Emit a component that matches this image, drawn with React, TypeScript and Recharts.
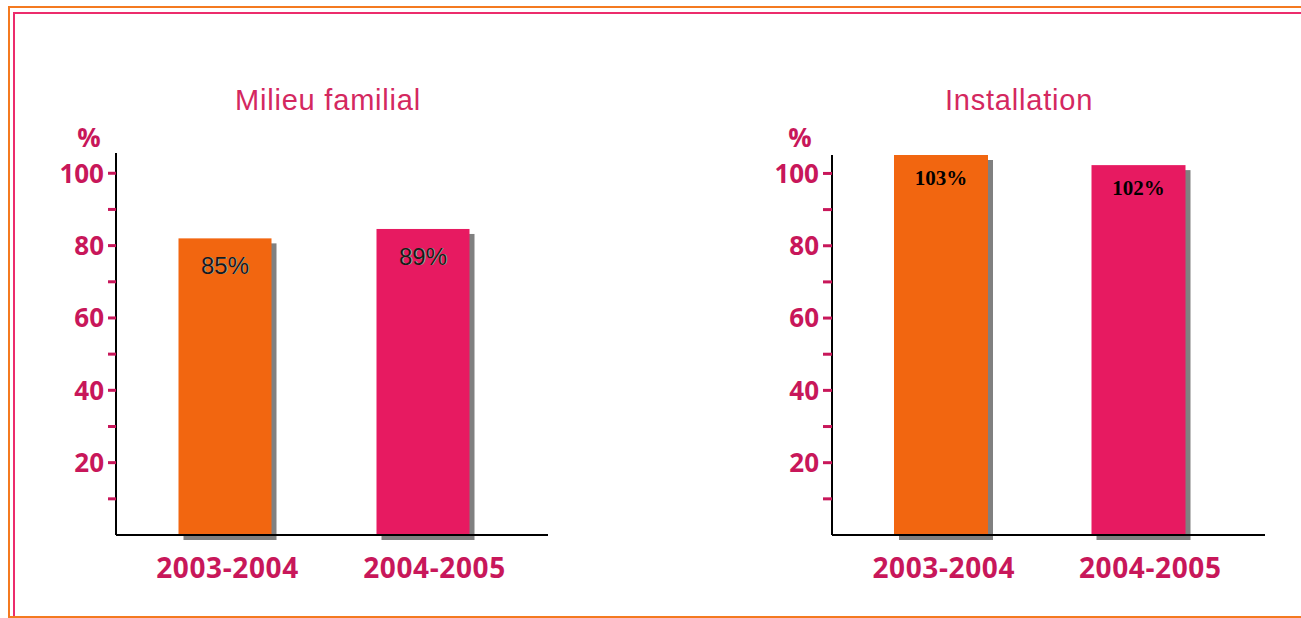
import React from "react"
import { BarChart, Bar, XAxis, YAxis, LabelList } from "recharts"

const periods = ["2003-2004", "2004-2005"]
const milieuValues = [82, 84.6]
const milieuLabels = ["85%", "89%"]
const installValues = [105.1, 102.3]
const installLabels = ["103%", "102%"]
const yTicks = [10, 20, 30, 40, 50, 60, 70, 80, 90, 100]
const barColors = ["#F26610", "#E71A61"]

const PINK = "#C8175A"
const TITLE = "#D4285F"

const milieuData = periods.map((p, i) => ({ period: p, value: milieuValues[i] }))
const installData = periods.map((p, i) => ({ period: p, value: installValues[i] }))

function ShadowBar(props: any) {
  const { x, y, width, height, index } = props
  if (height <= 0) return null
  return (
    <g>
      <rect x={x + 5} y={y + 5} width={width} height={height} fill="#808080" />
      <rect x={x} y={y} width={width} height={height} fill={barColors[index % barColors.length]} />
    </g>
  )
}

function YTick(props: any) {
  const { x, y, payload } = props
  if (payload.value % 20 !== 0) return null
  return (
    <text x={x} y={y} dy="0.36em" textAnchor="end" fill={PINK}
      style={{ fontFamily: "'Open Sans', sans-serif", fontWeight: 700, fontSize: 26 }}>
      {payload.value}
    </text>
  )
}

function XTick(props: any) {
  const { x, y, payload, index } = props
  // labels in the original sit a little right of the bar centres
  const shift = 3 + (index || 0) * 9
  return (
    <text x={x + shift} y={y} dy={43} textAnchor="middle" fill={PINK}
      style={{ fontFamily: "'Open Sans', sans-serif", fontWeight: 700, fontSize: 28, letterSpacing: 0.6 }}>
      {payload.value}
    </text>
  )
}

function makeLabel(labels: string[], serif: boolean) {
  return (props: any) => {
    const { x, y, width, index } = props
    const cx = x + width / 2
    if (serif) {
      return (
        <text x={cx} y={y + 23} dy="0.35em" textAnchor="middle" fill="#000"
          style={{ fontFamily: "'Liberation Serif', serif", fontWeight: 700, fontSize: 21 }}>
          {labels[index]}
        </text>
      )
    }
    return (
      <g style={{ fontFamily: "'Liberation Sans', Arial, sans-serif", fontSize: 24 }}>
        <text x={cx + 1.2} y={y + 27} dy="0.36em" textAnchor="middle" fill="#b8a898">
          {labels[index]}
        </text>
        <text x={cx} y={y + 27} dy="0.36em" textAnchor="middle" fill="#1a1a1a">
          {labels[index]}
        </text>
      </g>
    )
  }
}

function Panel(props: { data: any[]; labels: string[]; max: number; top: number; padL: number; padR: number; barSize: number; marginR: number; serif: boolean; tickSize: number }) {
  const { data, labels, max, top, padL, padR, barSize, marginR, serif, tickSize } = props
  return (
    <BarChart width={560} height={618} data={data} margin={{ top, right: marginR, left: 0, bottom: 0 }}>
      <XAxis dataKey="period" height={83} axisLine={{ stroke: "#000", strokeWidth: 2 }} tickLine={false}
        tickSize={0} tickMargin={0} padding={{ left: padL, right: padR }} tick={<XTick />} interval={0} />
      <YAxis width={116} domain={[0, max]} ticks={yTicks} interval={0}
        axisLine={{ stroke: "#000", strokeWidth: 2 }} tickLine={{ stroke: PINK, strokeWidth: 3 }}
        tickSize={tickSize} tickMargin={4} tick={<YTick />} />
      <Bar dataKey="value" barSize={barSize} shape={<ShadowBar />} isAnimationActive={false}>
        <LabelList dataKey="value" content={makeLabel(labels, serif)} />
      </Bar>
    </BarChart>
  )
}

const titleStyle: React.CSSProperties = {
  position: "absolute",
  width: 400,
  textAlign: "center",
  fontFamily: "'Liberation Sans', Arial, sans-serif",
  fontSize: 29,
  lineHeight: "29px",
  letterSpacing: 0.8,
  color: TITLE,
  top: 86,
}

const pctStyle: React.CSSProperties = {
  position: "absolute",
  width: 60,
  textAlign: "center",
  fontFamily: "'Open Sans', sans-serif",
  fontWeight: 700,
  fontSize: 26,
  lineHeight: "26px",
  color: PINK,
  top: 124,
}

export default function App() {
  return (
    <div style={{ position: "absolute", left: 0, top: 0, width: 1301, height: 618, overflow: "hidden", background: "#fff" }}>
      <div style={{ position: "absolute", left: 8, top: 6, right: 0, height: 2, background: "#F47A20" }} />
      <div style={{ position: "absolute", left: 8, top: 6, width: 2, bottom: 0, background: "#F47A20" }} />
      <div style={{ position: "absolute", left: 8, bottom: 0, right: 0, height: 2, background: "#F47A20" }} />
      <div style={{ position: "absolute", left: 13, top: 12, right: 0, height: 2, background: "#EC2C6C" }} />
      <div style={{ position: "absolute", left: 13, top: 12, width: 2, bottom: 2, background: "#EC2C6C" }} />

      <div style={{ ...titleStyle, left: 128 }}>Milieu familial</div>
      <div style={{ ...titleStyle, left: 819 }}>Installation</div>
      <div style={{ ...pctStyle, left: 59 }}>%</div>
      <div style={{ ...pctStyle, left: 770 }}>%</div>

      <div style={{ position: "absolute", left: 0, top: 0 }}>
        <Panel data={milieuData} labels={milieuLabels} max={105.6} top={153} padL={9.5} padR={26.5}
          barSize={93} marginR={12} serif={false} tickSize={8} />
      </div>
      <div style={{ position: "absolute", left: 716, top: 0 }}>
        <Panel data={installData} labels={installLabels} max={105.1} top={155} padL={10} padR={28}
          barSize={94} marginR={11} serif={true} tickSize={9} />
      </div>
    </div>
  )
}
